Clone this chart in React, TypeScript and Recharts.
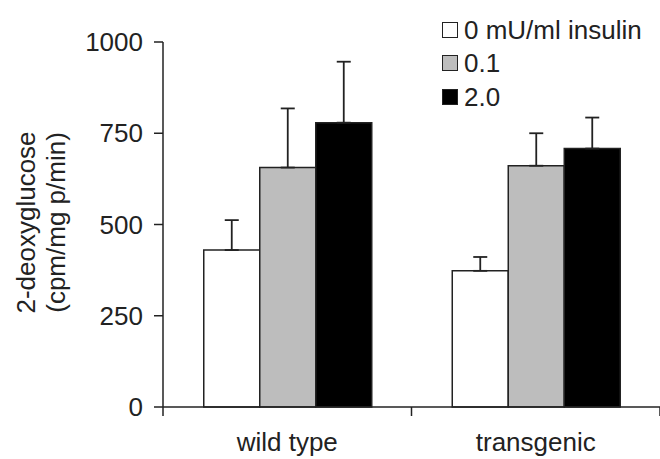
import React from "react";
import { BarChart, Bar, XAxis, YAxis, Legend, ErrorBar } from "recharts";

const categories = ["wild type", "transgenic"];
const seriesNames = ["0 mU/ml insulin", "0.1", "2.0"];
const insulin0 = [430, 373];
const insulin01 = [656, 661];
const insulin2 = [779, 708];
const err0 = [82, 38];
const err01 = [162, 89];
const err2 = [167, 85];
const yTicks = [0, 250, 500, 750, 1000];

const data = categories.map((name, i) => ({
  name,
  v0: insulin0[i],
  v01: insulin01[i],
  v2: insulin2[i],
  // errors are one-sided (up only)
  e0: [0, err0[i]],
  e01: [0, err01[i]],
  e2: [0, err2[i]],
}));

const font = "'Liberation Sans', Arial, Helvetica, sans-serif";
const ink = "#222";

function XTick(props: any) {
  const { x, y, payload, index, visibleTicksCount } = props;
  const half = payload.offset || 0;
  const axisY = y - 8 - 18;
  const last = index === visibleTicksCount - 1;
  return (
    <g>
      <line x1={x - half} x2={x - half} y1={axisY} y2={axisY + 9} stroke={ink} strokeWidth={1.5} />
      {last && <line x1={x + half} x2={x + half} y1={axisY} y2={axisY + 9} stroke={ink} strokeWidth={1.5} />}
      <text x={x} y={y} dy="0.71em" textAnchor="middle" fontSize={26} fontFamily={font} fill={ink}>
        {payload.value}
      </text>
    </g>
  );
}

function YLabel(props: any) {
  const { viewBox } = props;
  const cy = viewBox.y + viewBox.height / 2 - 2;
  const lines = ["2-deoxyglucose", "(cpm/mg p/min)"];
  return (
    <g>
      {lines.map((t, i) => {
        const cx = 26 + i * 30;
        return (
          <text
            key={t}
            x={cx}
            y={cy}
            transform={`rotate(-90 ${cx} ${cy})`}
            textAnchor="middle"
            dominantBaseline="central"
            fontSize={26}
            fontFamily={font}
            fill={ink}
          >
            {t}
          </text>
        );
      })}
    </g>
  );
}

function LegendBox({ payload }: any) {
  return (
    <div style={{ fontFamily: font, fontSize: 26, color: ink }}>
      {(payload || []).map((p: any) => (
        <div key={p.value} style={{ display: "flex", alignItems: "center", height: 33.5 }}>
          <span
            style={{
              display: "inline-block",
              width: 14,
              height: 14,
              background: p.color,
              border: `1.5px solid ${ink}`,
              marginRight: 6,
            }}
          />
          <span style={{ lineHeight: 1 }}>{p.value}</span>
        </div>
      ))}
    </div>
  );
}

export default function App() {
  return (
    <div style={{ position: "absolute", left: 0, top: 0, background: "#fff" }}>
      <BarChart
        width={660}
        height={459}
        data={data}
        margin={{ top: 42, right: 0, bottom: 0, left: 0 }}
        barCategoryGap="16.4%"
        barGap={0}
      >
        <XAxis
          dataKey="name"
          height={52}
          stroke={ink}
          strokeWidth={1.5}
          tickLine={false}
          tickSize={8}
          tickMargin={18}
          tick={<XTick />}
          interval={0}
        />
        <YAxis
          width={163}
          domain={[0, 1000]}
          ticks={yTicks}
          stroke={ink}
          strokeWidth={1.5}
          tickSize={9}
          tickMargin={11}
          tick={{ fontSize: 26, fontFamily: font, fill: ink }}
          label={<YLabel />}
        />
        <Legend
          layout="vertical"
          align="center"
          verticalAlign="middle"
          content={<LegendBox />}
          wrapperStyle={{ top: 13, left: 442, width: 210, height: 110 }}
        />
        <Bar dataKey="v0" name={seriesNames[0]} fill="#ffffff" stroke={ink} strokeWidth={1.5} isAnimationActive={false}>
          <ErrorBar dataKey="e0" width={7} stroke={ink} strokeWidth={1.8} direction="y" isAnimationActive={false} />
        </Bar>
        <Bar dataKey="v01" name={seriesNames[1]} fill="#bdbdbd" stroke={ink} strokeWidth={1.5} isAnimationActive={false}>
          <ErrorBar dataKey="e01" width={7} stroke={ink} strokeWidth={1.8} direction="y" isAnimationActive={false} />
        </Bar>
        <Bar dataKey="v2" name={seriesNames[2]} fill="#000000" stroke={ink} strokeWidth={1.5} isAnimationActive={false}>
          <ErrorBar dataKey="e2" width={7} stroke={ink} strokeWidth={1.8} direction="y" isAnimationActive={false} />
        </Bar>
      </BarChart>
    </div>
  );
}
